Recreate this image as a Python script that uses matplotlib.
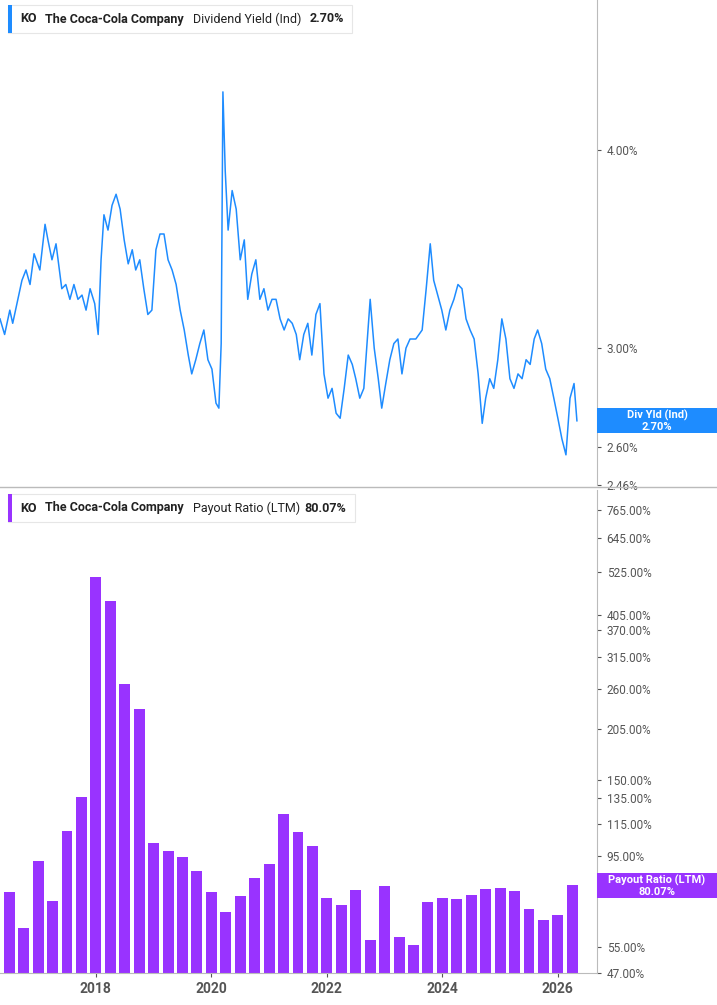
import matplotlib
matplotlib.use("Agg")
import matplotlib.pyplot as plt
import matplotlib.ticker as mticker
from matplotlib.patches import Rectangle
import numpy as np

plt.rcParams['font.family'] = ['Roboto', 'DejaVu Sans']

# Dividend yield (%) line, decimal years
yld_dates = [2016.34,2016.42,2016.51,2016.56,2016.65,2016.72,2016.79,2016.86,2016.93,2017.03,2017.12,2017.17,2017.24,2017.31,2017.41,2017.48,2017.55,2017.62,2017.69,2017.76,2017.83,2017.90,2017.98,2018.04,2018.09,2018.14,2018.21,2018.28,2018.35,2018.42,2018.49,2018.56,2018.63,2018.69,2018.76,2018.83,2018.90,2018.97,2019.04,2019.11,2019.18,2019.25,2019.32,2019.39,2019.46,2019.53,2019.60,2019.66,2019.73,2019.80,2019.87,2019.94,2020.01,2020.08,2020.13,2020.17,2020.20,2020.24,2020.29,2020.36,2020.43,2020.50,2020.57,2020.63,2020.70,2020.77,2020.84,2020.91,2020.98,2021.05,2021.12,2021.19,2021.26,2021.33,2021.40,2021.47,2021.53,2021.60,2021.67,2021.74,2021.81,2021.88,2021.95,2022.02,2022.09,2022.16,2022.23,2022.30,2022.37,2022.44,2022.50,2022.57,2022.64,2022.75,2022.82,2022.89,2022.95,2023.02,2023.09,2023.16,2023.23,2023.30,2023.37,2023.44,2023.54,2023.65,2023.72,2023.79,2023.85,2023.92,2023.99,2024.06,2024.13,2024.20,2024.27,2024.34,2024.41,2024.48,2024.55,2024.62,2024.69,2024.75,2024.82,2024.89,2024.96,2025.03,2025.10,2025.17,2025.24,2025.31,2025.38,2025.45,2025.52,2025.59,2025.65,2025.72,2025.79,2025.86,2025.93,2026.00,2026.07,2026.14,2026.21,2026.28,2026.33]
yld_vals = [3.13,3.06,3.17,3.11,3.22,3.31,3.36,3.29,3.44,3.36,3.59,3.51,3.41,3.49,3.27,3.29,3.22,3.29,3.22,3.24,3.17,3.27,3.20,3.06,3.41,3.64,3.56,3.69,3.75,3.67,3.51,3.39,3.46,3.36,3.41,3.27,3.15,3.17,3.46,3.54,3.54,3.41,3.36,3.29,3.17,3.08,2.97,2.89,2.95,3.02,3.08,2.95,2.91,2.77,2.75,3.02,4.35,3.88,3.56,3.77,3.67,3.41,3.51,3.22,3.34,3.41,3.22,3.27,3.17,3.22,3.22,3.13,3.08,3.13,3.11,3.06,2.95,3.06,3.11,2.97,3.15,3.20,2.89,2.79,2.83,2.73,2.71,2.83,2.97,2.93,2.87,2.79,2.83,3.22,3.00,2.87,2.75,2.85,2.95,3.02,3.04,2.89,3.00,3.04,3.04,3.08,3.27,3.49,3.31,3.24,3.17,3.08,3.17,3.22,3.29,3.27,3.13,3.08,3.04,2.89,2.69,2.79,2.87,2.83,2.95,3.13,3.04,2.87,2.83,2.89,2.87,2.95,2.93,3.04,3.08,3.02,2.91,2.87,2.79,2.71,2.63,2.57,2.79,2.85,2.70]

# Payout ratio (LTM, %) quarterly bars
pay_dates = list(np.arange(2016.5, 2026.26, 0.25))
pay_vals = [76.7,61.5,92.1,72.5,110.7,135.7,510,441,268,230,102.8,98,94.6,86.7,76.4,68,74.7,83.1,90.5,122.5,109.9,101.2,73.8,70.8,77.3,57.3,79.6,58.5,55.6,72,73.8,73.3,75.2,77.9,78.3,77,69.1,64.7,66.6,80.07]

yld_ticks = [2.46, 2.60, 3.00, 4.00]
pay_ticks = [47, 55, 75, 95, 115, 135, 150, 205, 260, 315, 370, 405, 525, 645, 765]
year_ticks = [2018, 2020, 2022, 2024, 2026]

BLUE = "#1e8cff"
PURPLE = "#9933ff"
GRID = "#bbbbbb"
TXT = "#555555"

W, H = 717, 1005
fig = plt.figure(figsize=(W/100, H/100), dpi=100)
xmin, xmax = 2016.34, 2016.34 + 597*0.017316

def fx(px): return px / W
def fy(py): return 1 - py / H

ax1 = fig.add_axes([0, fy(485), fx(597), (485)/H])
ax2 = fig.add_axes([0, fy(973), fx(597), (973-490)/H])

for ax in (ax1, ax2):
    ax.set_yscale("log")
    ax.set_xlim(xmin, xmax)
    for s in ("left", "top", "bottom"):
        ax.spines[s].set_visible(False)
    ax.spines["right"].set_color(GRID)
    ax.yaxis.tick_right()
    ax.yaxis.set_minor_locator(mticker.NullLocator())
    ax.tick_params(axis="y", length=3, color=TXT, labelsize=8.5, labelcolor=TXT, pad=4)

ax1.plot(yld_dates, yld_vals, color=BLUE, lw=1.1)
ax1.set_ylim(2.46, 4.97)
ax1.set_yticks(yld_ticks)
ax1.set_yticklabels([f"{t:.2f}%" for t in yld_ticks])
ax1.set_xticks([])

ax2.bar(pay_dates, pay_vals, width=0.19, color=PURPLE, bottom=0)
ax2.set_ylim(47, 47*np.exp((973-490)/166))
ax2.set_yticks(pay_ticks)
ax2.set_yticklabels([f"{t:.2f}%" if t != 75 else "" for t in pay_ticks])
ax2.spines["bottom"].set_visible(True)
ax2.spines["bottom"].set_color(GRID)
ax2.set_xticks(year_ticks)
ax2.set_xticklabels([str(y) for y in year_ticks])
ax2.tick_params(axis="x", length=3, color=TXT, labelsize=10, labelcolor=TXT)
for l in ax2.get_xticklabels():
    l.set_fontweight("bold")

# separator line
fig.add_artist(plt.Line2D([0, 1], [fy(487), fy(487)], color=GRID, lw=1, transform=fig.transFigure))

def legend(ytop, color, metric, val, xend, xmetric, xval):
    fig.add_artist(Rectangle((fx(8), fy(ytop+28)), fx(xend)-fx(8), 28/H, transform=fig.transFigure,
                             facecolor="white", edgecolor="#e6e6e6", lw=0.8, zorder=5))
    fig.add_artist(Rectangle((fx(8), fy(ytop+28)), 4/W, 28/H, transform=fig.transFigure,
                             facecolor=color, edgecolor="none", zorder=6))
    yc = fy(ytop+14)
    kw = dict(va="center", ha="left", fontsize=9, color="#222222", zorder=7)
    fig.text(fx(20), yc, "KO", fontweight="bold", **kw)
    fig.text(fx(45), yc, "The Coca-Cola Company", fontweight="bold", **kw)
    fig.text(fx(xmetric), yc, metric, **kw)
    fig.text(fx(xval), yc, val, fontweight="bold", **kw)

legend(5, BLUE, "Dividend Yield (Ind)", "2.70%", 352, 193, 310)
legend(494, PURPLE, "Payout Ratio (LTM)", "80.07%", 355, 193, 304)

def tag(ytop, color, l1, l2):
    fig.add_artist(Rectangle((fx(597), fy(ytop+25)), fx(717)-fx(597), 25/H, transform=fig.transFigure,
                             facecolor=color, edgecolor="none", zorder=8))
    fig.text(fx(657), fy(ytop+7), l1, ha="center", va="center", fontsize=8, color="white", fontweight="bold", zorder=9)
    fig.text(fx(657), fy(ytop+18.5), l2, ha="center", va="center", fontsize=8, color="white", fontweight="bold", zorder=9)

tag(408, BLUE, "Div Yld (Ind)", "2.70%")
tag(873, PURPLE, "Payout Ratio (LTM)", "80.07%")

fig.savefig("out.png", dpi=100, facecolor="white")
